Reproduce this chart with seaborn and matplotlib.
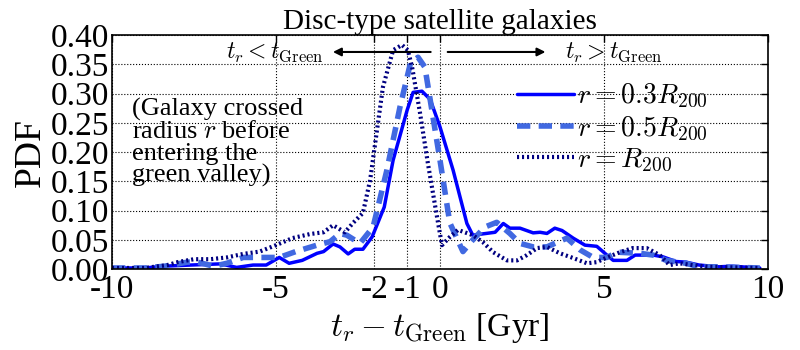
import seaborn as sns
import matplotlib as mpl
mpl.use("Agg")
import matplotlib.pyplot as plt

# values
x_03 = [-10, -9.0, -8.45, -7.6, -6.7, -6.2, -5.7, -5.3, -4.9, -4.6, -4.2, -3.75, -3.55, -3.26,
        -3.05, -2.8, -2.6, -2.35, -2.07, -1.7, -1.43, -1.0, -0.82, -0.55, -0.3, 0.0, 0.4, 0.82,
        1.0, 1.68, 1.93, 2.13, 2.44, 2.84, 3.05, 3.26, 3.5, 3.72, 4.06, 4.42, 4.78, 5.09, 5.28,
        5.7, 5.95, 6.5, 6.8, 7.2, 7.5, 7.9, 8.5, 8.9, 9.75]
pdf_03 = [0.002, 0.002, 0.005, 0.007, 0.009, 0.003, 0.007, 0.007, 0.02, 0.01, 0.015, 0.027, 0.03, 0.043,
          0.038, 0.026, 0.034, 0.034, 0.055, 0.106, 0.186, 0.272, 0.302, 0.304, 0.29, 0.243, 0.169, 0.078,
          0.058, 0.063, 0.078, 0.07, 0.07, 0.062, 0.063, 0.061, 0.07, 0.066, 0.053, 0.041, 0.039, 0.024, 0.015,
          0.015, 0.024, 0.024, 0.021, 0.013, 0.012, 0.007, 0.004, 0.005, 0.002]

x_05 = [-10, -9.0, -8.4, -7.7, -7.4, -6.9, -6.5, -6.0, -5.5, -4.9, -4.4, -3.75, -3.35, -3.05,
        -2.84, -2.44, -2.04, -1.62, -1.22, -0.9, -0.67, -0.46, -0.2, 0.0, 0.3, 0.7, 1.0, 1.37,
        1.73, 2.13, 2.44, 2.84, 3.26, 3.5, 3.87, 4.27, 4.67, 5.09, 5.4, 6.1, 6.5, 6.9, 7.5, 7.9,
        8.5, 9.1, 9.75]
pdf_05 = [0.002, 0.002, 0.005, 0.012, 0.012, 0.005, 0.01, 0.02, 0.02, 0.02, 0.03, 0.041, 0.047, 0.061,
          0.058, 0.044, 0.072, 0.169, 0.277, 0.352, 0.362, 0.345, 0.255, 0.186, 0.079, 0.03, 0.05, 0.072,
          0.08, 0.061, 0.044, 0.038, 0.038, 0.044, 0.053, 0.033, 0.02, 0.02, 0.029, 0.027, 0.024, 0.015, 0.01, 0.004,
          0.004, 0.003, 0.002]

x_10 = [-10, -9.0, -8.3, -8.0, -7.5, -7.0, -6.5, -6.0, -5.5, -5.0, -4.5, -3.96, -3.55, -3.26,
        -2.9, -2.65, -2.35, -2.13, -1.92, -1.74, -1.43, -1.16, -0.98, -0.85, -0.61, -0.37, -0.09,
        0.06, 0.3, 0.55, 1.0, 1.31, 1.62, 2.04, 2.35, 2.65, 2.96, 3.26, 3.66, 4.06, 4.48, 4.78,
        5.09, 5.49, 5.88, 6.3, 6.7, 7.0, 7.3, 7.7, 8.2, 9.75]
pdf_10 = [0.002, 0.002, 0.007, 0.012, 0.017, 0.017, 0.02, 0.026, 0.03, 0.041, 0.053, 0.06, 0.063, 0.075,
          0.063, 0.079, 0.096, 0.152, 0.238, 0.311, 0.374, 0.383, 0.374, 0.345, 0.267, 0.181, 0.089,
          0.041, 0.055, 0.067, 0.058, 0.046, 0.029, 0.015, 0.015, 0.024, 0.036, 0.038, 0.027, 0.019, 0.01, 0.012,
          0.02, 0.029, 0.036, 0.036, 0.024, 0.007, 0.01, 0.007, 0.004, 0.002]

xticks = [-10, -5, -2, -1, 0, 5, 10]
xtick_labels = ["-10", "-5", "-2", "-1", "0", "5", "10"]
yticks = [0.0, 0.05, 0.10, 0.15, 0.20, 0.25, 0.30, 0.35, 0.40]

sns.set_style("whitegrid", {"grid.linestyle": ":", "grid.color": "black",
                            "axes.edgecolor": "black", "xtick.direction": "in",
                            "ytick.direction": "in", "text.color": "black",
                            "axes.labelcolor": "black", "xtick.color": "black",
                            "ytick.color": "black"})
plt.rcParams["font.family"] = ["Liberation Serif", "DejaVu Serif"]
plt.rcParams["mathtext.fontset"] = "cm"
plt.rcParams["axes.unicode_minus"] = False

fig = plt.figure(figsize=(8, 3.5), dpi=100)
ax = fig.add_axes([0.14, 0.231, 0.82, 0.669])

sns.lineplot(x=x_03, y=pdf_03, ax=ax, color="blue", lw=2.5, label=r"$r=0.3R_{200}$")
sns.lineplot(x=x_05, y=pdf_05, ax=ax, color="royalblue", lw=4, label=r"$r=0.5R_{200}$")
sns.lineplot(x=x_10, y=pdf_10, ax=ax, color="navy", lw=3, label=r"$r=R_{200}$")
ax.lines[1].set_dashes([2.4, 1.5])
ax.lines[2].set_dashes([0.5, 0.7])

ax.set_xlim(-10, 10)
ax.set_ylim(0, 0.40)
ax.set_xticks(xticks)
ax.set_xticklabels(xtick_labels)
ax.set_yticks(yticks)
ax.set_yticklabels(["%.2f" % v for v in yticks])
ax.tick_params(labelsize=24, top=True, right=True, length=5, width=1, colors="black")
ax.tick_params(axis="x", pad=4)
ax.tick_params(axis="y", pad=2)
ax.grid(True, color="black", linestyle=":", lw=0.8)
for s in ax.spines.values():
    s.set_linewidth(1.2)

ax.set_title("Disc-type satellite galaxies", fontsize=21, pad=4)
ax.set_xlabel(r"$t_r - t_{\rm Green}$ [Gyr]", fontsize=24, labelpad=4)
ax.set_ylabel("PDF", fontsize=27, labelpad=2)

ax.annotate("", xy=(-3.35, 0.371), xytext=(-0.2, 0.371),
            arrowprops=dict(arrowstyle="-|>", color="black", lw=1.5, mutation_scale=12))
ax.annotate("", xy=(3.3, 0.371), xytext=(0.15, 0.371),
            arrowprops=dict(arrowstyle="-|>", color="black", lw=1.5, mutation_scale=12))
ax.text(-3.55, 0.371, r"$t_r < t_{\rm Green}$", fontsize=17, ha="right", va="center")
ax.text(3.8, 0.371, r"$t_r > t_{\rm Green}$", fontsize=17, ha="left", va="center")

ax.text(-9.4, 0.292, "(Galaxy crossed\nradius $r$ before\nentering the\ngreen valley)",
        fontsize=19, ha="left", va="top", linespacing=0.98)

ax.legend(loc="upper right", bbox_to_anchor=(0.925, 0.845), frameon=False, fontsize=20,
          handlelength=2.05, handletextpad=0.1, labelspacing=0.15, borderaxespad=0)

fig.savefig("out.png", dpi=100)
